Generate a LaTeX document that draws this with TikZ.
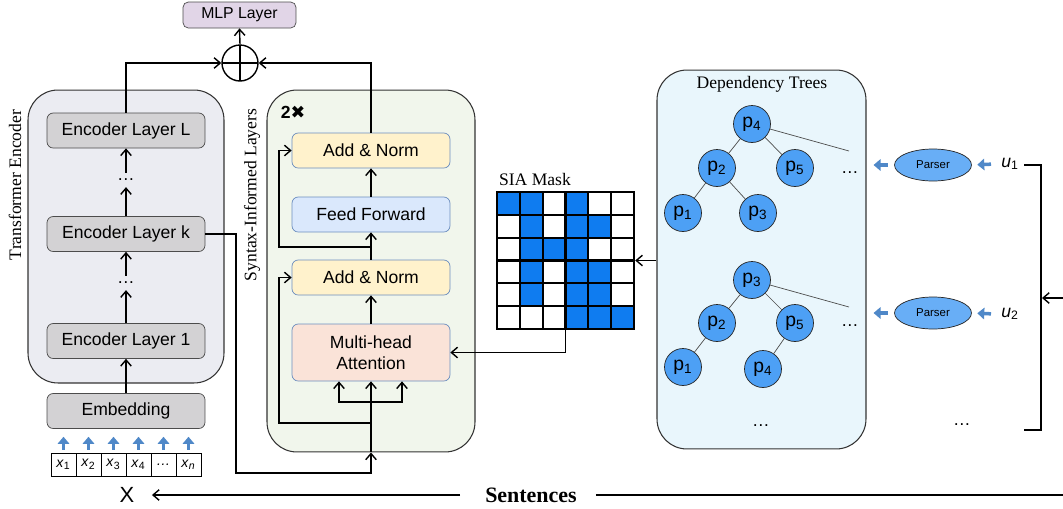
\documentclass[tikz,border=0pt]{standalone}
\usepackage{fontspec}
\setmainfont{Liberation Sans}
\newfontfamily\timesfont{Liberation Serif}
\newfontfamily\symbfont{DejaVu Sans}
\usepackage{tikz}
\usetikzlibrary{shapes,positioning,calc,arrows.meta}

\definecolor{encbg}{HTML}{EBECF2}
\definecolor{encgray}{HTML}{D3D2D4}
\definecolor{synbg}{HTML}{F1F6EC}
\definecolor{normfill}{HTML}{FFF2CC}
\definecolor{fffill}{HTML}{DAE8FC}
\definecolor{mhafill}{HTML}{FAE3D8}
\definecolor{synborder}{HTML}{6C8EBF}
\definecolor{treebg}{HTML}{E9F6FC}
\definecolor{mlpfill}{HTML}{E1D5E7}
\definecolor{nodeblue}{HTML}{4DA0F5}
\definecolor{maskblue}{HTML}{0F7CF0}
\definecolor{arrowblue}{HTML}{4F88C8}

\begin{document}
\begin{tikzpicture}[x=0.02cm, y=-0.02cm, >={Straight Barb[length=3.5pt,width=6pt]}]
	
	\tikzstyle{arrow1} = [->, thick]
	\tikzstyle{line1} = [thick]
	\tikzstyle{line2} = [draw=black!70, line width=0.4pt]
	\tikzstyle{arrow2} = [line width=2pt, draw=arrowblue, -{Triangle[length=4pt,width=6.5pt]}]
	\tikzstyle{frame1} = [rectangle, rounded corners=17pt, draw=black!80, line width=0.6pt]
	\tikzstyle{box1} = [rectangle, rounded corners=3.5pt, draw=black!70, fill=encgray, minimum width=3.16cm, minimum height=0.70cm, font=\fontsize{10}{12}\selectfont]
	\tikzstyle{box2} = [rectangle, rounded corners=3.5pt, draw=synborder, minimum width=3.16cm, minimum height=0.70cm, font=\fontsize{10}{12}\selectfont, align=center]
	\tikzstyle{circle1} = [circle, draw=black!85, fill=nodeblue, minimum size=0.74cm, inner sep=0pt, font=\fontsize{11}{13}\selectfont]
	\tikzstyle{ellipse1} = [ellipse, draw=black!85, fill=nodeblue!85!white, minimum width=1.54cm, minimum height=0.64cm, inner sep=0pt, font=\fontsize{6.5}{8}\selectfont]
	\tikzstyle{node1} = [text=black, font=\timesfont\fontsize{10}{12}\selectfont]
	\tikzstyle{node2} = [text=black, font=\fontsize{10}{12}\selectfont]
	\tikzstyle{node3} = [text=black, font=\fontsize{8}{10}\selectfont]
	
	\useasboundingbox (0,0) rectangle (1063,508);
	
	% frames
	\node [frame1, fill=encbg, minimum width=3.92cm, minimum height=5.86cm](v18) at (126,236.5){};
	\node [frame1, fill=synbg, minimum width=4.16cm, minimum height=7.24cm](v17) at (371,271){};
	\node [frame1, fill=treebg, minimum width=4.18cm, minimum height=7.58cm](v16) at (761.5,259.5){};
	\node [node1, rotate=90](v30) at (15,185){Transformer Encoder};
	\node [node1, rotate=90](v31) at (252,195){Syntax-Informed Layers};
	\node [node1](v32) at (762,84){Dependency Trees};
	
	% top
	\node [rectangle, rounded corners=3pt, draw=black!70, fill=mlpfill, minimum width=2.26cm, minimum height=0.52cm, font=\fontsize{9}{11}\selectfont](v1) at (239.5,15){MLP Layer};
	\node [circle, draw=black, line width=0.8pt, fill=white, minimum size=0.72cm, inner sep=0pt,
	path picture={\draw[line width=1.2pt] (path picture bounding box.north) -- (path picture bounding box.south)
		(path picture bounding box.west) -- (path picture bounding box.east);}](v2) at (240,63){};
	\draw [arrow1](v2.north) -- (v1.south);
	
	% encoder
	\node [box1](v3) at (126,130.5){Encoder Layer L};
	\node [node2](v4) at (126,180){\dots};
	\node [box1](v5) at (126,234){Encoder Layer k};
	\node [node2](v6) at (126,283){\dots};
	\node [box1](v7) at (126,341){Encoder Layer 1};
	\node [box1](v8) at (126,411){Embedding};
	\draw [arrow1](v8.north) -- (v7.south);
	\draw [arrow1](v7.north) -- (v6.south);
	\draw [arrow1](v6.north) -- (v5.south);
	\draw [arrow1](v5.north) -- (v4.south);
	\draw [arrow1](v4.north) -- (v3.south);
	\draw [arrow1](v3.north) |- (v2.west);
	
	\foreach \lab [count=\i] in {\textit{x}\textsubscript{1}, \textit{x}\textsubscript{2}, \textit{x}\textsubscript{3}, \textit{x}\textsubscript{4}, \textit{\dots}, \textit{x}\textsubscript{\textit{n}}}{
		\node [node3, draw, minimum width=0.5cm, minimum height=0.46cm, inner sep=0pt](t\i) at ({38.5+25*\i},464.5){\lab};
		\draw [arrow2, shorten <=1.7pt, shorten >=4.5pt](t\i.north) -- (t\i.north |- v8.south);
	}
	
	\node [text=black, font=\fontsize{12.5}{14}\selectfont](v9) at (127,495){X};
	\node [text=black, font=\timesfont\bfseries\fontsize{12.5}{14}\selectfont](v10) at (531,495){Sentences};
	\coordinate (c6) at (1063,495);
	\draw [arrow1, shorten <=10.8pt, shorten >=6.5pt](v10.west) -- (v9.east);
	\draw [line1, shorten <=7.4pt](v10.east) -- (c6);
	
	% syntax-informed layers
	\node [font=\bfseries\fontsize{10}{12}\selectfont](v33) at (293,112){2{\symbfont ✖}};
	\node [box2, fill=normfill](v11) at (371,150.5){Add \& Norm};
	\node [box2, fill=fffill](v12) at (371,214.5){Feed Forward};
	\node [box2, fill=normfill](v13) at (371,277.5){Add \& Norm};
	\node [box2, fill=mhafill, minimum height=1.14cm](v14) at (371,352.5){Multi-head\\Attention};
	\draw [arrow1](v14.north) -- (v13.south);
	\draw [arrow1](v13.north) -- (v12.south);
	\draw [arrow1](v12.north) -- (v11.south);
	\draw [arrow1](v11.north) |- (v2.east);
	
	\coordinate (c1) at (236,473);
	\coordinate (c2) at (371,402);
	\coordinate (c7) at (371,423);
	\coordinate (c8) at (371,247);
	\draw [arrow1](v5.east) -| (c1) -| (v17.south);
	\draw [arrow1](v17.south) -- (v14.south);
	\draw [arrow1](c2) -| ([xshift=-0.64cm]v14.south);
	\draw [arrow1](c2) -| ([xshift=0.62cm]v14.south);
	\draw [arrow1](c7) -- ++(-92,0) |- (v13.west);
	\draw [arrow1](c8) -- ++(-92,0) |- (v11.west);
	
	% mask
	\node [node1](v34) at (535,179){SIA Mask};
	\foreach \c/\r in {0/0,1/0,3/0,1/1,3/1,4/1,1/2,2/2,3/2,1/3,3/3,4/3,1/4,3/4,4/4,3/5,4/5,5/5}
		\fill [maskblue]({497+22.83*\c},{192+22.83*\r}) rectangle +(22.83,22.83);
	\foreach \k in {1,...,5}{
		\draw [line width=1.2pt]({497+22.83*\k},192) -- ++(0,137);
		\draw [line width=1.2pt](497,{192+22.83*\k}) -- ++(137,0);
	}
	\node [draw, line width=1.4pt, minimum size=2.74cm, inner sep=0pt](v15) at (565.5,260.5){};
	\draw [arrow1](v15.south) |- (v14.east);
	\draw [arrow1](v15.east -| v16.west) -- (v15.east);
	
	% trees
	\node [circle1](a4) at (752,124){p\textsubscript{4}};
	\node [circle1](a2) at (717,168){p\textsubscript{2}};
	\node [circle1](a5) at (795,168){p\textsubscript{5}};
	\node [circle1](a1) at (683,213){p\textsubscript{1}};
	\node [circle1](a3) at (758,213){p\textsubscript{3}};
	\coordinate (c3) at (849,151);
	\draw [line2](a4) -- (a2);
	\draw [line2](a4) -- (a5);
	\draw [line2](a2) -- (a1);
	\draw [line2](a2) -- (a3);
	\draw [line2](a4) -- (c3);
	\node [node2](v24) at (850,173){\dots};
	
	\node [circle1](b3) at (752,280){p\textsubscript{3}};
	\node [circle1](b2) at (717,323){p\textsubscript{2}};
	\node [circle1](b5) at (795,323){p\textsubscript{5}};
	\node [circle1](b1) at (683,367){p\textsubscript{1}};
	\node [circle1](b4) at (763,369){p\textsubscript{4}};
	\coordinate (c4) at (849,307);
	\draw [line2](b3) -- (b2);
	\draw [line2](b3) -- (b5);
	\draw [line2](b2) -- (b1);
	\draw [line2](b5) -- (b4);
	\draw [line2](b3) -- (c4);
	\node [node2](v25) at (850,326){\dots};
	\node [node2](v26) at (761,426){\dots};
	
	% parsers
	\node [ellipse1](v19) at (933,165){Parser};
	\node [ellipse1](v20) at (933,313){Parser};
	\node [node2](v21) at (1010,164){\textit{u}\textsubscript{1}};
	\node [node2](v22) at (1010,314){\textit{u}\textsubscript{2}};
	\node [node2](v23) at (962,425){\dots};
	\draw [arrow2, shorten <=2.3pt, shorten >=3.1pt](v21.west) -- (v19.east);
	\draw [arrow2, shorten <=2.3pt, shorten >=3.1pt](v22.west) -- (v20.east);
	\draw [arrow2, shorten <=3.7pt, shorten >=4pt](v19.west) -- (v19.west -| v16.east);
	\draw [arrow2, shorten <=3.7pt, shorten >=4pt](v20.west) -- (v20.west -| v16.east);
	
	\draw [line1](1024,165) -- (1041,165) -- (1041,430) -- (1024,430);
	\coordinate (c5) at (1063,298);
	\draw [arrow1](c5) -- (1042,298);
	
\end{tikzpicture}
\end{document}
